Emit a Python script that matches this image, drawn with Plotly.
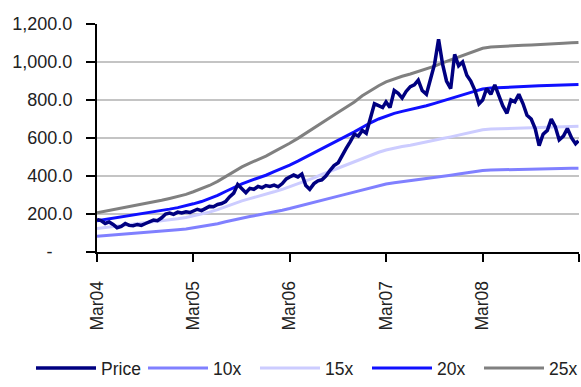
import plotly.graph_objects as go
import pandas as pd

# ---- data ----
# monthly EPS-based multiple lines (value of 1x), Mar-2004 .. Feb-2009
eps_dates = list(pd.date_range("2004-03-01", periods=60, freq="MS").strftime("%Y-%m-%d")) + ["2009-02-27"]
eps = [8.24, 8.56, 8.88, 9.24, 9.60, 9.96, 10.28, 10.56, 10.88, 11.28, 11.68, 12.12,
       12.68, 13.28, 14.00, 14.88, 15.92, 17.00, 17.92, 18.72, 19.44, 20.20, 21.12, 22.00,
       22.88, 23.92, 24.96, 26.04, 27.20, 28.32, 29.40, 30.48, 31.60, 32.88, 34.00, 35.00,
       35.80, 36.48, 37.00, 37.48, 38.00, 38.48, 39.12, 39.80, 40.40, 41.00, 41.68, 42.32,
       42.88, 43.16, 43.28, 43.36, 43.44, 43.52, 43.60, 43.72, 43.80, 43.88, 43.96, 44.04,
       44.10]
multiples = [10, 15, 20, 25]
multiple_names = ["10x", "15x", "20x", "25x"]

# semi-monthly price observations
price_dates = []
for y in range(2004, 2010):
    for m in range(1, 13):
        for d in (1, 16):
            dt = f"{y}-{m:02d}-{d:02d}"
            if "2004-03-01" <= dt <= "2009-02-16":
                price_dates.append(dt)
price_dates.append("2009-02-27")
price = [172, 165, 150, 158, 145, 128, 135, 150, 140, 138, 145, 140,
         150, 160, 168, 165, 180, 200, 205, 198, 210, 206, 212, 208,
         215, 225, 218, 230, 240, 238, 250, 255, 265, 290, 310, 355,
         330, 312, 335, 330, 345, 338, 350, 345, 352, 343, 360, 385,
         395, 405, 395, 410, 350, 330, 360, 375, 380, 400, 430, 455,
         470, 510, 545, 580, 620, 610, 640, 625, 700, 780, 770, 760,
         790, 760, 850, 835, 810, 845, 870, 880, 905, 850, 830, 900,
         990, 1120, 990, 900, 860, 1040, 980, 1000, 930, 900, 850, 780,
         800, 860, 830, 880, 820, 770, 730, 800, 790, 830, 780, 720,
         700, 650, 560, 620, 640, 700, 660, 590, 610, 650, 600, 570,
         585]

colors = {"Price": "#000080", "10x": "#8080FF", "15x": "#CCCCFF", "20x": "#1010FF", "25x": "#808080"}
y_ticks = [0, 200, 400, 600, 800, 1000, 1200]
y_labels = ["-\u00a0\u00a0\u00a0\u00a0", "200.0", "400.0", "600.0", "800.0", "1,000.0", "1,200.0"]

FONT = "Liberation Sans, Arial, sans-serif"

fig = go.Figure()
for i, (mult, name) in enumerate(zip(multiples, multiple_names)):
    fig.add_trace(go.Scatter(x=eps_dates, y=[e * mult for e in eps], mode="lines", name=name,
                             line=dict(color=colors[name], width=3), legendrank=2 + i))
fig.add_trace(go.Scatter(x=price_dates, y=price, mode="lines", name="Price",
                         line=dict(color=colors["Price"], width=3.5), legendrank=1))

fig.update_layout(
    width=581, height=387,
    margin=dict(l=97, r=2, t=24, b=135, autoexpand=False),
    paper_bgcolor="white", plot_bgcolor="white",
    showlegend=True,
    legend=dict(orientation="h", xref="paper", yref="paper",
                x=(31 - 97) / 482, xanchor="left", y=-(386 - 252) / 228, yanchor="bottom",
                bgcolor="rgba(0,0,0,0)",
                font=dict(family=FONT, size=17.5, color="#222"),
                itemwidth=60, entrywidth=37, entrywidthmode="pixels", tracegroupgap=0),
    xaxis=dict(range=["2004-03-01", "2009-03-01"], tick0="2004-03-01", dtick="M12",
               tickformat="%b%y", tickangle=-90, ticks="outside", ticklen=8, tickwidth=2,
               tickcolor="black", showline=True, linecolor="black", linewidth=2,
               showgrid=False, zeroline=False, ticklabelstandoff=12, automargin=False,
               tickfont=dict(family=FONT, size=17.5, color="#222")),
    yaxis=dict(range=[0, 1200], tickvals=y_ticks, ticktext=y_labels, ticks="outside",
               ticklen=9, tickwidth=2, tickcolor="black", showline=True, linecolor="black",
               linewidth=2, showgrid=True, gridcolor="#C4C4C4", gridwidth=1.5,
               zeroline=False, ticklabelstandoff=10, automargin=False,
               tickfont=dict(family=FONT, size=18, color="#222")),
)
fig.write_html("out.html")
